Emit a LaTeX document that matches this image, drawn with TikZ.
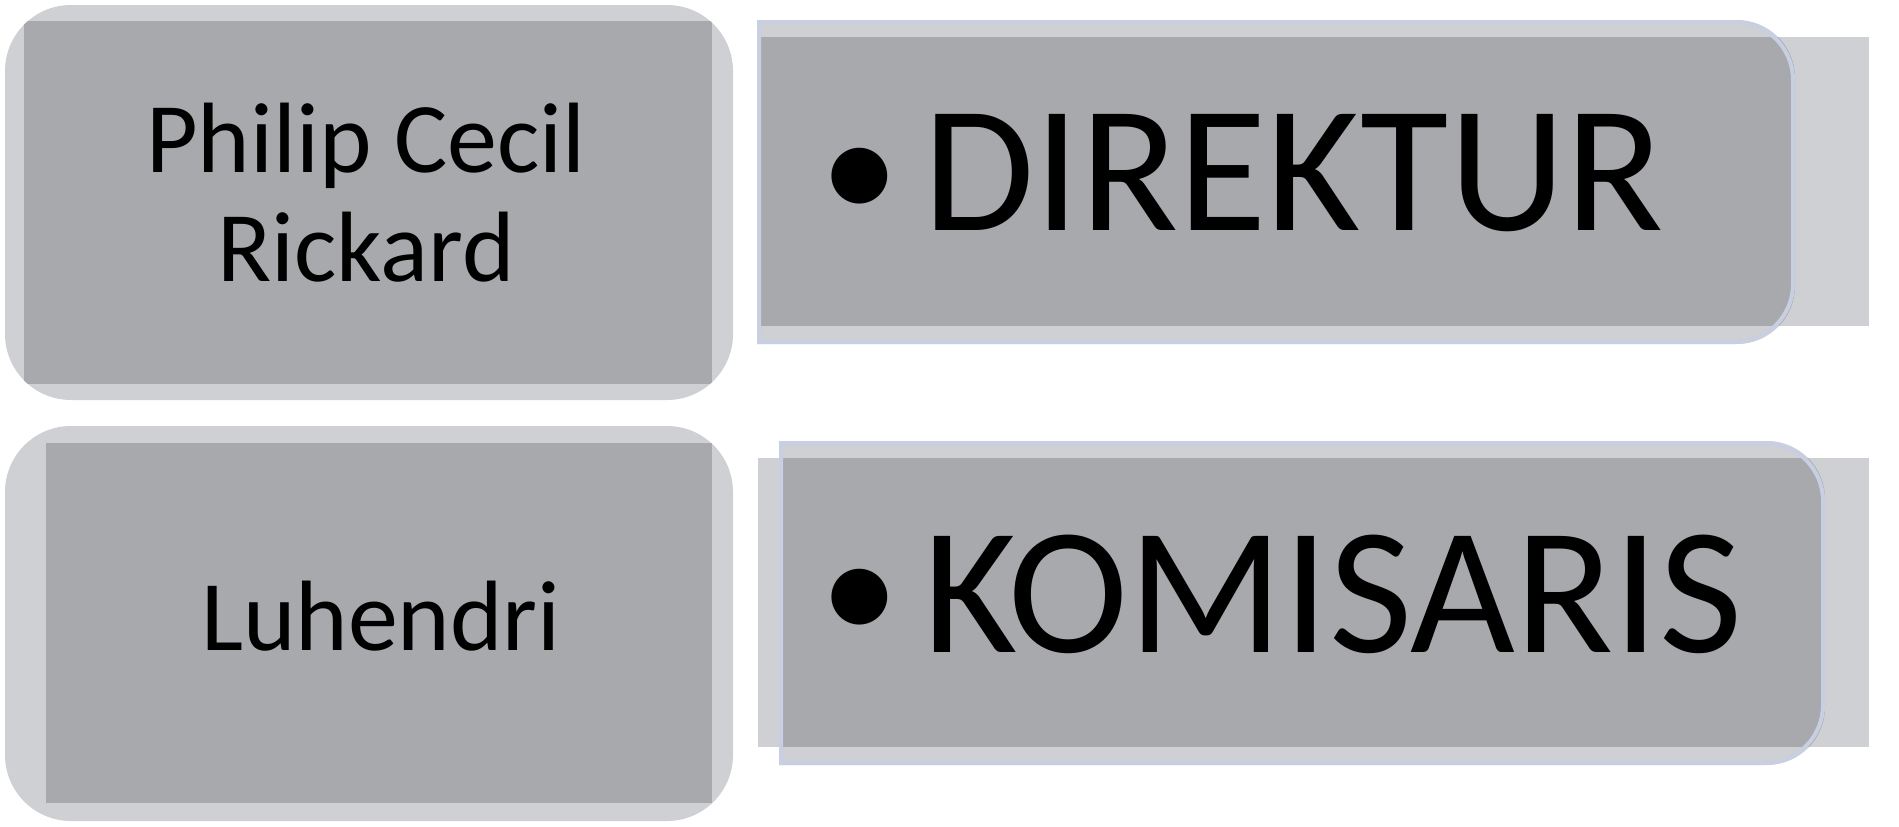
\documentclass[tikz,border=0pt]{standalone}
\usepackage{fontspec}
\setmainfont{Carlito}
\definecolor{panelgray}{HTML}{CFD0D4}
\definecolor{overlapgray}{HTML}{A7A9AD}
\definecolor{rimblue}{HTML}{C9CFE3}
% right hand tab: square left side, rounded right side
\newcommand\tabbox[4]{(#1,#2) -- ({#3-58},#2) arc[start angle=-90,end angle=0,radius=58] -- (#3,{#4-58}) arc[start angle=0,end angle=90,radius=58] -- (#1,#4) -- cycle}
\tikzset{
  panel/.style={fill=panelgray},
  overlap/.style={fill=overlapgray},
  rim/.style={draw=rimblue, line width=4pt},
  namelabel/.style={align=center, inner sep=0pt, font=\fontsize{100}{109}\selectfont},
  postlabel/.style={anchor=base west, inner sep=0pt, font=\fontsize{181}{200}\selectfont},
  bulletdot/.style={inner sep=0pt, font=\fontsize{158}{180}\selectfont}
}

\begin{document}
\begin{tikzpicture}[x=1pt,y=-1pt]
\useasboundingbox (0,0) rectangle (1899,827);

% left panels
\fill[panel,rounded corners=66pt] (5,5) rectangle (733,400);
\begin{scope}
\clip[rounded corners=66pt] (5,5) rectangle (733,400);
\fill[overlap] (24,21) rectangle (712,384);
\end{scope}

\fill[panel,rounded corners=66pt] (5,426) rectangle (733,821);
\begin{scope}
\clip[rounded corners=66pt] (5,426) rectangle (733,821);
\fill[overlap] (46,443) rectangle (712,803);
\end{scope}

% right panels
\fill[panel] (758,37) rectangle (1869,326);
\fill[panel] \tabbox{757}{20}{1795}{344};
\begin{scope}
\clip \tabbox{757}{20}{1795}{344};
\fill[overlap] (758,37) rectangle (1869,326);
\end{scope}
\draw[rim] \tabbox{759}{22}{1793}{342};

\fill[panel] (758,458) rectangle (1869,747);
\fill[panel] \tabbox{779}{441}{1825}{765};
\begin{scope}
\clip \tabbox{779}{441}{1825}{765};
\fill[overlap] (758,458) rectangle (1869,747);
\end{scope}
\draw[rim] \tabbox{781}{443}{1823}{763};

% labels
\node[namelabel] (philip) at (366,193) {Philip Cecil\\Rickard};
\node[namelabel,anchor=base] (luhendri) at (381,650) {Luhendri};

\node[bulletdot] (dotdir) at (860,184) {•};
\node[postlabel] (direktur) at (923,230) {DIREKTUR};
\node[bulletdot] (dotkom) at (860,605) {•};
\node[postlabel] (komisaris) at (923,652) {KOMISARIS};

\end{tikzpicture}
\end{document}
